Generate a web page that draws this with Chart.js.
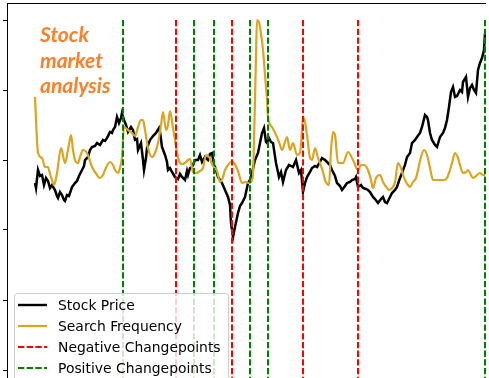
<!DOCTYPE html>
<html>
<head>
<meta charset="utf-8">
<script src="https://cdn.jsdelivr.net/npm/chart.js@4/dist/chart.umd.min.js"></script>
<style>
html,body{margin:0;padding:0;background:#fff;}
canvas{display:block;}
</style>
</head>
<body>
<canvas id="c" width="489" height="378"></canvas>
<script>
// ---- data (x = trading day index, y = value in chart units) ----
const stockDays = [28,29,31,33,35,37,39,41,43,45,48,50,51,53,55,57,58,60,62,65,68,70,72,75,77,78,81,83,85,88,90,93,96,98,100,103,105,106,108,110,112,114,115,117,119,121,124,126,128,130,131,134,136,137,139,140,143,146,149,152,153,155,158,160,161,163,165,168,171,173,175,178,180,181,183,185,188,191,193,195,198,201,203,205,207,208,211,215,218,221,223,224,226,228,231,233,235,238,241,243,245,248,251,253,255,257,259,260,262,264,266,269,272,274,276,279,282,286,289,292,294,296,298,300,303,305,308,310,313,315,318,320,323,325,328,330,333,335,338,340,343,345,348,349,351,354,356,359,361,363,366,368,371,374,376,378,380,383,385,388,390,393,395,398,400,403,405,408,410,413,415,418,420,421,423,425,428,430,433,436,438,440,442,444,446,448,450,453,455,456,459,461,463,465,467,469,471,473,475,477,478];
const stockPrice = [187,182,200,194,195,185,192,189,182,185,180,174,172,178,175,170,169,175,174,183,187,189,194,200,204,210,213,220,223,224,227,225,230,229,232,238,237,240,243,253,247,252,257,250,245,238,243,240,230,231,220,227,210,200,212,222,230,234,237,242,238,223,215,208,200,202,198,193,191,196,193,190,199,195,202,203,210,210,215,208,213,210,216,217,205,203,193,187,180,173,165,147,133,143,157,164,167,173,187,190,197,210,217,227,237,242,228,227,232,228,227,207,193,198,188,200,205,203,210,197,200,178,187,193,198,202,204,203,208,212,210,208,205,200,194,187,184,180,184,187,188,190,191,193,183,185,182,181,180,178,173,171,167,171,173,168,167,173,177,180,183,192,197,205,213,217,227,230,233,237,243,255,253,250,237,230,225,223,233,237,242,250,263,278,283,273,274,280,278,288,293,273,282,285,280,277,300,307,312,320,337];

const searchDays = [28,29,31,35,38,41,43,45,47,50,54,58,61,64,66,68,71,73,76,80,85,90,93,96,98,103,106,108,111,113,115,117,121,125,128,131,134,136,138,141,145,148,151,154,156,159,161,163,166,168,170,172,175,178,181,183,186,189,193,196,199,202,206,210,213,216,218,221,224,227,231,235,238,242,245,246,247,248,249,250,252,253,256,258,260,261,265,270,273,275,278,280,283,286,290,293,295,296,298,300,303,305,308,311,313,316,318,322,324,326,328,331,336,341,346,351,354,357,361,364,366,369,373,376,380,382,385,388,391,394,396,399,401,403,406,409,411,414,417,420,423,426,430,433,437,440,443,445,448,451,453,456,459,461,464,466,469,473,476,478];
const searchFreq = [273,250,217,212,203,203,196,190,185,197,222,207,220,235,220,210,207,213,220,217,203,195,192,195,200,208,205,200,197,202,213,243,240,237,234,243,250,250,240,222,213,217,227,245,258,240,245,259,242,230,217,209,206,207,210,211,198,197,199,202,215,213,204,199,188,193,200,205,208,207,199,187,188,187,190,195,230,270,315,350,348,343,320,295,270,253,243,233,225,220,228,233,220,227,215,217,240,253,248,235,212,210,222,212,207,198,190,185,220,238,235,207,207,218,210,200,205,205,200,190,182,192,195,188,182,180,182,188,207,202,195,188,185,183,188,192,200,213,220,215,202,190,190,190,190,192,200,207,217,212,205,197,198,200,195,192,194,197,195,195];

const negativeChangepoints = [169,225,296,351];
const positiveChangepoints = [116,187,207,243,261,478];

const yTickValues = [0,70,140,210,280,350];
const legendLabels = ['Stock Price','Search Frequency','Negative Changepoints','Positive Changepoints'];
const titleLines = ['Stock','market','analysis'];

// ---- build datasets ----
const pts = (xs, ys) => xs.map((x, i) => ({x: x, y: ys[i]}));
const VTOP = 350, VBOT = -60;
const DASH = [6.3, 2.4];

const datasets = [];
negativeChangepoints.forEach(d => datasets.push({
  data: [{x: d, y: VTOP}, {x: d, y: VBOT}],
  borderColor: '#ff0000', borderWidth: 2, borderDash: DASH,
  pointRadius: 0, order: 0, tension: 0
}));
positiveChangepoints.forEach(d => datasets.push({
  data: [{x: d, y: VTOP}, {x: d, y: VBOT}],
  borderColor: '#008000', borderWidth: 2, borderDash: DASH,
  pointRadius: 0, order: 0, tension: 0
}));
datasets.push({
  data: pts(searchDays, searchFreq),
  borderColor: '#daa520', borderWidth: 2.2,
  pointRadius: 0, cubicInterpolationMode: 'monotone', order: 1
});
datasets.push({
  data: pts(stockDays, stockPrice),
  borderColor: '#000000', borderWidth: 2.5,
  pointRadius: 0, tension: 0, order: 2
});

const overlay = {
  id: 'overlay',
  afterDraw(chart) {
    const ctx = chart.ctx, a = chart.chartArea;
    ctx.save();
    // top spine
    ctx.strokeStyle = '#000'; ctx.lineWidth = 1;
    ctx.beginPath();
    ctx.moveTo(a.left, a.top + 0.5); ctx.lineTo(a.right, a.top + 0.5);
    ctx.stroke();

    // legend box
    const lx = a.left + 7.5, ly = a.top + 290.5, lw = 214, lh = 110, r = 3;
    ctx.beginPath();
    ctx.moveTo(lx + r, ly);
    ctx.lineTo(lx + lw - r, ly);
    ctx.arcTo(lx + lw, ly, lx + lw, ly + r, r);
    ctx.lineTo(lx + lw, ly + lh);
    ctx.lineTo(lx, ly + lh);
    ctx.lineTo(lx, ly + r);
    ctx.arcTo(lx, ly, lx + r, ly, r);
    ctx.closePath();
    ctx.fillStyle = 'rgba(255,255,255,0.8)';
    ctx.fill();
    ctx.strokeStyle = '#cccccc'; ctx.lineWidth = 1;
    ctx.stroke();

    const styles = [
      {c: '#000000', w: 2.4, d: []},
      {c: '#daa520', w: 2.2, d: []},
      {c: '#ff0000', w: 2, d: DASH},
      {c: '#008000', w: 2, d: DASH}
    ];
    ctx.font = '13.9px "DejaVu Sans"';
    ctx.textBaseline = 'middle';
    ctx.fillStyle = '#000';
    legendLabels.forEach((lab, i) => {
      const y = a.top + 302 + i * 21;
      const s = styles[i];
      ctx.beginPath();
      ctx.setLineDash(s.d);
      ctx.strokeStyle = s.c; ctx.lineWidth = s.w;
      ctx.moveTo(a.left + 11, y); ctx.lineTo(a.left + 40, y);
      ctx.stroke();
      ctx.setLineDash([]);
      ctx.fillText(lab, a.left + 51, y + 1);
    });

    // title
    ctx.font = 'italic bold 21px Lato';
    ctx.textBaseline = 'alphabetic';
    ctx.fillStyle = '#ff7f27';
    titleLines.forEach((t, i) => ctx.fillText(t, a.left + 33, a.top + 39 + i * 25.5));
    ctx.restore();
  }
};

new Chart(document.getElementById('c'), {
  type: 'line',
  data: { datasets: datasets },
  options: {
    responsive: false,
    devicePixelRatio: 1,
    animation: false,
    events: [],
    layout: { padding: { left: 0, top: 3, right: 3, bottom: 0 } },
    plugins: { legend: { display: false }, tooltip: { enabled: false }, title: { display: false } },
    scales: {
      x: { type: 'linear', min: 0, max: 479, display: false },
      y: {
        type: 'linear', min: -8, max: 367,
        afterFit: s => { s.width = 7; },
        afterBuildTicks: s => { s.ticks = yTickValues.map(v => ({value: v})); },
        ticks: { display: false },
        grid: { drawOnChartArea: false, drawTicks: true, tickLength: 4, color: '#000', lineWidth: 1 },
        border: { display: true, color: '#000', width: 1 }
      }
    }
  },
  plugins: [overlay]
});
</script>
</body>
</html>
